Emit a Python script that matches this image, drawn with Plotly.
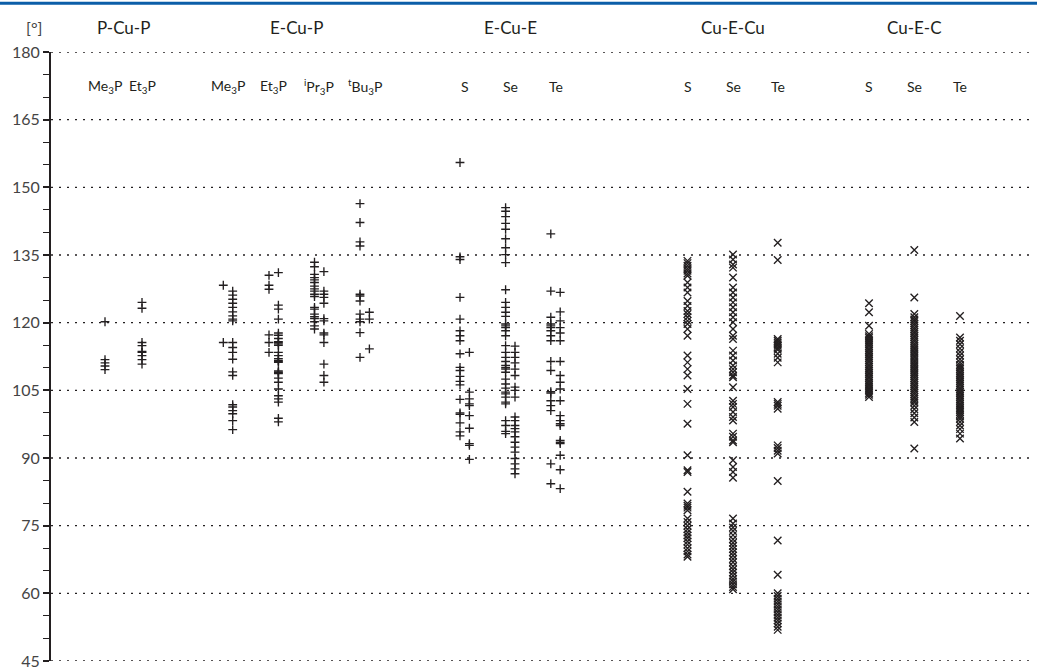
import plotly.graph_objects as go

# ---------------- data (angles in degrees) ----------------
group_names = ["P-Cu-P", "E-Cu-P", "E-Cu-E", "Cu-E-Cu", "Cu-E-C"]

# P-Cu-P
pcup_me3p = [120.2, 111.8, 111.1, 110.4, 109.6]
pcup_et3p = [124.5, 123.2, 115.6, 114.9, 113.6, 113.4, 112.7, 111.8, 110.8]

# E-Cu-P (two sub-columns each)
ecup_me3p_a = [128.3, 115.6]
ecup_me3p_b = [127.0, 126.1, 125.2, 124.3, 123.4, 122.4, 121.5, 120.8, 120.4, 115.6, 114.5,
               113.4, 111.9, 109.1, 108.3, 101.8, 101.3, 100.5, 99.8, 98.3, 96.3]
ecup_et3p_a = [130.5, 128.3, 127.4, 117.3, 115.6, 113.4]
ecup_et3p_b = [131.1, 123.9, 123.0, 120.8, 117.7, 117.2, 116.5, 115.8, 115.6, 115.3, 115.0,
               113.4, 112.7, 112.0, 111.6, 111.4, 111.2, 109.3, 109.1, 108.9, 108.7, 107.7,
               106.8, 105.3, 103.8, 103.1, 102.4, 98.8, 98.0]
ecup_ipr3p_a = [133.4, 132.4, 130.7, 130.0, 129.5, 128.9, 128.1, 127.5, 127.0, 126.3, 125.8,
                123.4, 123.0, 121.9, 121.3, 120.9, 120.2, 119.3, 118.6]
ecup_ipr3p_b = [131.3, 127.0, 126.3, 125.6, 124.3, 120.9, 120.4, 117.7, 117.3, 115.6, 110.8,
                108.3, 106.8]
ecup_tbu3p_a = [146.4, 142.2, 137.9, 137.0, 126.3, 125.9, 124.8, 121.9, 120.8, 120.2, 117.8, 112.3]
ecup_tbu3p_b = [122.3, 120.8, 114.2]

# E-Cu-E
ecue_s_a = [155.5, 134.6, 134.0, 125.6, 120.8, 118.2, 117.1, 116.0, 113.1, 110.1, 109.4, 108.1,
            107.0, 106.2, 103.0, 100.0, 99.7, 97.8, 95.8, 94.9]
ecue_s_b = [113.4, 104.6, 103.1, 102.0, 101.6, 99.4, 96.6, 93.2, 92.8, 89.7]
ecue_se_a = [145.5, 144.7, 143.5, 142.0, 140.7, 138.6, 136.6, 135.1, 133.3, 127.3, 124.5, 123.4,
             122.3, 121.4, 119.7, 119.3, 118.9, 118.2, 117.1, 114.9, 113.4, 112.3, 111.4, 110.5,
             110.0, 109.7, 109.0, 107.5, 106.4, 105.5, 104.6, 104.2, 103.5, 102.4, 102.0, 98.3,
             97.2, 95.9, 95.4]
ecue_se_b = [114.8, 113.4, 112.3, 111.1, 109.7, 108.3, 105.7, 105.0, 103.5, 99.1, 98.3, 97.2,
             96.5, 95.8, 94.7, 93.5, 92.4, 91.3, 89.9, 88.7, 87.6, 86.5]
ecue_te_a = [139.7, 127.0, 121.2, 119.7, 119.3, 118.9, 118.2, 117.1, 116.0, 111.4, 109.4, 104.7,
             104.4, 102.7, 101.6, 100.5, 88.7, 84.3]
ecue_te_b = [126.7, 122.4, 120.4, 118.9, 117.7, 116.0, 111.4, 108.3, 106.8, 105.3, 102.7, 99.4,
             98.3, 97.6, 97.2, 93.9, 93.5, 93.2, 90.6, 87.4, 83.2]

# Cu-E-Cu
cuecu_s = [133.7, 133.2, 132.6, 132.0, 131.5, 130.9, 130.4, 128.9, 127.8, 126.7, 124.8, 123.7,
           122.6, 121.9, 121.2, 120.4, 119.7, 118.6, 117.1, 112.7, 111.2, 109.7, 108.3, 105.3,
           102.0, 97.6, 90.6, 87.3, 86.9, 82.5, 79.9, 79.4, 79.0, 78.4, 76.6, 75.8, 75.0, 74.2,
           73.5, 72.8, 72.2, 71.5, 70.8, 70.0, 69.3, 68.6, 68.1]
cuecu_se = [135.1, 134.0, 132.9, 132.2, 130.0, 127.8, 126.7, 125.6, 124.5, 123.4, 122.3, 121.2,
            120.1, 118.6, 117.1, 116.4, 113.8, 112.7, 111.6, 110.5, 109.7, 109.0, 108.3, 107.9,
            105.7, 102.7, 102.0, 101.3, 100.2, 99.1, 98.3, 95.4, 94.7, 93.9, 93.5, 89.5, 88.0,
            86.9, 85.6, 76.6, 75.5, 74.6, 73.8, 72.9, 72.0, 71.2, 70.5, 69.8, 69.1, 68.4, 67.6,
            66.9, 66.0, 65.3, 64.6, 63.9, 63.2, 62.6, 62.0, 61.4, 60.9]
cuecu_te = [137.7, 133.9, 116.4, 116.0, 115.6, 115.2, 114.9, 114.4, 114.0, 113.1, 112.2, 111.2,
            102.4, 102.0, 101.6, 100.9, 92.8, 92.2, 91.6, 91.0, 84.9, 71.7, 64.1, 60.0, 59.4,
            58.8, 58.2, 57.6, 57.0, 56.4, 55.8, 55.2, 54.6, 54.0, 53.3, 52.6, 51.9]

# Cu-E-C
cuec_s = [124.3, 122.3, 119.3, 117.5, 117.0, 116.6, 116.1, 115.7, 115.2, 114.8, 114.3, 113.9,
          113.4, 113.0, 112.5, 112.1, 111.6, 111.2, 110.7, 110.3, 109.8, 109.4, 108.9, 108.5,
          108.0, 107.6, 107.1, 106.7, 106.2, 105.8, 105.3, 104.9, 104.4, 104.0, 103.5]
cuec_se = [136.1, 125.6, 121.9, 121.2, 120.7, 120.3, 119.8, 119.4, 118.9, 118.5, 118.0, 117.6,
           117.1, 116.7, 116.2, 115.8, 115.3, 114.9, 114.4, 114.0, 113.5, 113.1, 112.6, 112.2,
           111.7, 111.3, 110.8, 110.4, 109.9, 109.5, 109.0, 108.6, 108.1, 107.7, 107.2, 106.8,
           106.3, 105.9, 105.4, 105.0, 104.5, 104.1, 103.6, 103.2, 102.7, 102.3, 101.6, 100.8,
           99.9, 99.0, 98.0, 92.1]
cuec_te = [121.5, 116.7, 116.0, 115.2, 114.3, 113.5, 112.7, 111.9, 111.2, 110.6, 110.1, 109.7,
           109.2, 108.8, 108.3, 107.9, 107.4, 107.0, 106.5, 106.1, 105.6, 105.2, 104.7, 104.3,
           103.8, 103.4, 102.9, 102.5, 102.0, 101.6, 101.1, 100.7, 100.2, 99.7, 99.2, 98.7,
           98.0, 97.2, 96.4, 95.4, 94.3]

# category labels, groups, series
cat_labels = ["Me<sub>3</sub>P", "Et<sub>3</sub>P",
              "Me<sub>3</sub>P", "Et<sub>3</sub>P", "<sup>i</sup>Pr<sub>3</sub>P", "<sup>t</sup>Bu<sub>3</sub>P",
              "S", "Se", "Te", "S", "Se", "Te", "S", "Se", "Te"]
cat_group = [0, 0, 1, 1, 1, 1, 2, 2, 2, 3, 3, 3, 4, 4, 4]
cat_col_a = [pcup_me3p, pcup_et3p, ecup_me3p_a, ecup_et3p_a, ecup_ipr3p_a, ecup_tbu3p_a,
             ecue_s_a, ecue_se_a, ecue_te_a, cuecu_s, cuecu_se, cuecu_te, cuec_s, cuec_se, cuec_te]
cat_col_b = [[], [], ecup_me3p_b, ecup_et3p_b, ecup_ipr3p_b, ecup_tbu3p_b,
             ecue_s_b, ecue_se_b, ecue_te_b, [], [], [], [], [], []]
y_ticks = list(range(45, 181, 15))

# ---------------- layout / style ----------------
cat_x = [54, 91, 177, 222.7, 268.2, 313.7, 413.7, 459.3, 504.5, 636.5, 682, 726.7, 818, 863.3, 909]
col_off = 4.7
ink = "#231f20"
font_fam = "Lato, 'Open Sans', sans-serif"

fig = go.Figure()
for i in range(len(cat_labels)):
    sym = "cross-thin-open" if cat_group[i] < 3 else "x-thin-open"
    size = 6.3 if cat_group[i] < 3 else 7.5
    a, b = cat_col_a[i], cat_col_b[i]
    if b:
        xa = [cat_x[i] - col_off] * len(a)
        xb = [cat_x[i] + col_off] * len(b)
    else:
        xa = [cat_x[i]] * len(a)
        xb = []
    fig.add_trace(go.Scatter(
        x=xa + xb, y=a + b, mode="markers", showlegend=False, hoverinfo="y",
        marker=dict(symbol=sym, size=size, color=ink, line=dict(color=ink, width=1.35)),
        cliponaxis=False))

annotations = []
for i, lab in enumerate(cat_labels):
    annotations.append(dict(x=cat_x[i], y=172.3, xref="x", yref="y", text=lab, showarrow=False,
                            yanchor="middle", font=dict(size=14, color=ink, family=font_fam)))
for g, name in enumerate(group_names):
    xs = [cat_x[i] for i in range(len(cat_x)) if cat_group[i] == g]
    annotations.append(dict(x=sum(xs) / len(xs), y=1.041, xref="x", yref="paper", text=name,
                            showarrow=False, yanchor="middle",
                            font=dict(size=17, color=ink, family=font_fam)))
annotations.append(dict(x=-27 / 984, y=1.041, xref="paper", yref="paper", text="[°]",
                        showarrow=False, yanchor="middle",
                        font=dict(size=16, color="#444", family=font_fam)))

shapes = [dict(type="line", xref="paper", yref="paper", x0=-0.06, x1=1.01, y0=1.0802, y1=1.0802,
               line=dict(color="#0b5ea8", width=3))]
for v in y_ticks:
    shapes.append(dict(type="line", xref="paper", yref="y", x0=0, x1=1, y0=v, y1=v, layer="below",
                       line=dict(color=ink, width=1.4, dash="2px,6px")))

fig.update_layout(
    width=1037, height=670,
    margin=dict(l=51, r=2, t=52, b=9, autoexpand=False),
    paper_bgcolor="white", plot_bgcolor="white",
    annotations=annotations,
    shapes=shapes,
    xaxis=dict(range=[0, 984], visible=False, fixedrange=True),
    yaxis=dict(range=[45, 180], tickvals=y_ticks, showgrid=False, zeroline=False,
               showline=True, linecolor=ink, linewidth=2, ticks="outside", ticklen=6,
               tickwidth=1.5, tickcolor=ink, automargin=False, ticklabeloverflow="allow",
               tickfont=dict(size=16, color="#444", family=font_fam),
               minor=dict(dtick=5, tick0=45, ticks="outside", ticklen=6, tickwidth=1.2,
                          tickcolor=ink, showgrid=False)),
)

fig.write_html("out.html", config={"displayModeBar": False},
               post_script="document.body.style.margin='0';")
